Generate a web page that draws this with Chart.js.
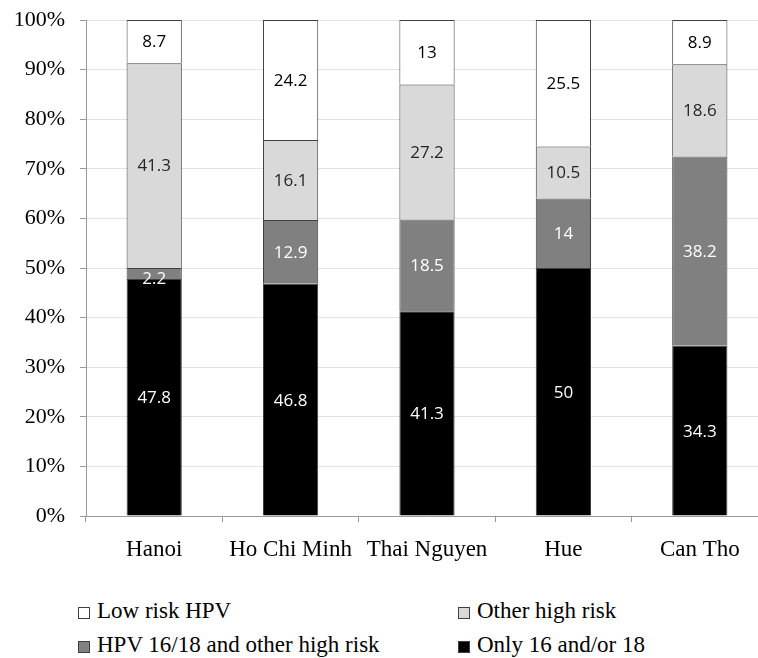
<!DOCTYPE html>
<html>
<head>
<meta charset="utf-8">
<script src="https://cdn.jsdelivr.net/npm/chart.js@4.4.0/dist/chart.umd.min.js"></script>
<style>
html, body { margin: 0; padding: 0; background: #fff; width: 758px; height: 658px; overflow: hidden; }
#wrap { position: absolute; left: 0; top: 0; width: 772px; height: 572px; }
#legend { position: absolute; left: 0; top: 0; }
.lg { position: absolute; font-family: "Liberation Serif", "Times New Roman", serif; font-size: 23px; line-height: 23px; color: #000; white-space: nowrap; }
.lg .box { position: absolute; width: 12px; height: 12px; border: 1px solid #404040; box-sizing: border-box; }
</style>
</head>
<body>
<div id="wrap"><canvas id="hpv-chart"></canvas></div>
<div id="legend"></div>
<script>
/* ── HPV genotype distribution by region ── */

const regions = ['Hanoi', 'Ho Chi Minh', 'Thai Nguyen', 'Hue', 'Can Tho'];

// stacked bottom -> top
const only1618     = [47.8, 46.8, 41.3, 50, 34.3];
const hpv1618Other = [2.2, 12.9, 18.5, 14, 38.2];
const otherHigh    = [41.3, 16.1, 27.2, 10.5, 18.6];
const lowRisk      = [8.7, 24.2, 13, 25.5, 8.9];

const seriesNames = {
    lowRisk: 'Low risk HPV',
    otherHigh: 'Other high risk',
    hpv1618Other: 'HPV 16/18 and other high risk',
    only1618: 'Only 16 and/or 18',
};

const yMin = 0, yMax = 100, yStep = 10;

const SERIF = '"Liberation Serif", "Times New Roman", serif';
const axisGray = '#9a9a9a';

const mk = (label, data, fill, labelColor) => ({
    label, data,
    backgroundColor: fill,
    borderColor: '#404040',
    borderWidth: 1,
    barPercentage: 0.405,
    categoryPercentage: 1,
    labelColor,
});

const datasets = [
    mk(seriesNames.only1618, only1618, '#000000', '#ffffff'),
    mk(seriesNames.hpv1618Other, hpv1618Other, '#808080', '#ffffff'),
    mk(seriesNames.otherHigh, otherHigh, '#d9d9d9', '#262626'),
    mk(seriesNames.lowRisk, lowRisk, '#ffffff', '#000000'),
];

// value labels centred in each segment (tiny segments: label sits a bit lower, as in Excel)
const segLabels = {
    id: 'segLabels',
    afterDatasetsDraw(chart) {
        const ctx = chart.ctx;
        ctx.save();
        ctx.font = '17px "Open Sans", "DejaVu Sans", sans-serif';
        ctx.textAlign = 'center';
        ctx.textBaseline = 'middle';
        chart.data.datasets.forEach((ds, i) => {
            chart.getDatasetMeta(i).data.forEach((bar, j) => {
                const p = bar.getProps(['x', 'y', 'base'], true);
                const h = Math.abs(p.base - p.y);
                const shift = h < 16 ? 6 : 1;
                ctx.fillStyle = ds.labelColor;
                ctx.fillText(String(ds.data[j]), p.x, (p.y + p.base) / 2 + shift);
            });
        });
        ctx.restore();
    },
};

const canvas = document.getElementById('hpv-chart');
canvas._chart = new Chart(canvas, {
    type: 'bar',
    data: { labels: regions, datasets },
    plugins: [segLabels],
    options: {
        responsive: true,
        maintainAspectRatio: false,
        animation: false,
        layout: { padding: { top: 20, right: 4, bottom: 2, left: 0 } },
        plugins: { legend: { display: false }, tooltip: { enabled: false } },
        scales: {
            x: {
                stacked: true,
                grid: { offset: true, drawOnChartArea: false, drawTicks: true, tickLength: 6, color: axisGray },
                border: { color: axisGray },
                ticks: { font: { family: SERIF, size: 23 }, color: '#000', padding: 14 },
                afterFit: (s) => { s.height = 54; },
            },
            y: {
                stacked: true,
                min: yMin, max: yMax,
                grid: { color: '#e2e2e2', tickColor: axisGray, tickLength: 6 },
                border: { color: axisGray },
                ticks: {
                    stepSize: yStep,
                    font: { family: SERIF, size: 22 },
                    color: '#000',
                    padding: 15,
                    callback: (v) => v + '%',
                },
                afterFit: (s) => { s.width = 86; s.paddingTop = 0; s.paddingBottom = 0; },
            },
        },
    },
});

// legend, two columns, order as in the figure
const legendItems = [
    { name: seriesNames.lowRisk, fill: '#ffffff', left: 78, top: 599 },
    { name: seriesNames.otherHigh, fill: '#d9d9d9', left: 458, top: 599 },
    { name: seriesNames.hpv1618Other, fill: '#808080', left: 78, top: 633 },
    { name: seriesNames.only1618, fill: '#000000', left: 458, top: 633 },
];
const legendEl = document.getElementById('legend');
legendItems.forEach(it => {
    const d = document.createElement('div');
    d.className = 'lg';
    d.style.left = it.left + 'px';
    d.style.top = it.top + 'px';
    d.style.paddingLeft = '19px';
    d.innerHTML = `<span class="box" style="left:0;top:8px;background:${it.fill}"></span>${it.name}`;
    legendEl.appendChild(d);
});
</script>
</body>
</html>
